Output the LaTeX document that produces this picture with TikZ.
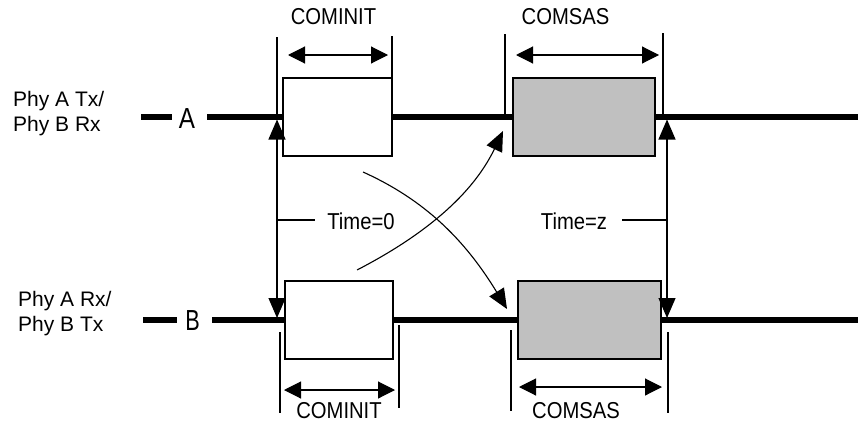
\documentclass[tikz,border=0pt]{standalone}
\usepackage{fontspec}
\setmainfont{Liberation Sans}
\newfontfamily\narrowfont{Liberation Sans}[FakeStretch=0.88]
\usetikzlibrary{arrows.meta}
\definecolor{boxgray}{HTML}{C0C0C0}
\begin{document}
\begin{tikzpicture}[x=1pt,y=-1pt,
  sigline/.style={line width=5.3pt},
  thinline/.style={line width=1.1pt},
  box/.style={draw, line width=1.4pt, minimum height=78pt, inner sep=0pt},
  graybox/.style={box, fill=boxgray},
  dimarrow/.style={line width=1.1pt, {Triangle[length=17pt,width=17pt]}-{Triangle[length=17pt,width=17pt]}},
  tiparrow/.style={line width=1.1pt, -{Triangle[length=20pt,width=17pt]}},
  lbl/.style={font=\narrowfont\fontsize{23}{25}\selectfont, inner sep=0pt},
  sidelbl/.style={font=\fontsize{21}{25}\selectfont, inner sep=0pt, align=left},
  letter/.style={font=\narrowfont\fontsize{29}{29}\selectfont, inner sep=0pt}]
\useasboundingbox (0,0) rectangle (858,423);

% boxes
\node[box, minimum width=109pt] (a1) at (337.5,117) {};
\node[graybox, minimum width=142pt] (a2) at (584,117) {};
\node[box, minimum width=108pt] (b1) at (339,320) {};
\node[graybox, minimum width=143pt] (b2) at (589.5,320) {};

% letters
\node[letter] (labA) at (187,118.5) {\scalebox{0.95}[1]{A}};
\node[letter] (labB) at (192.5,321) {\scalebox{0.85}[1]{B}};

% signal lines
\coordinate (Al) at (141,117);
\coordinate (Am1) at (172,117);
\coordinate (Am2) at (207,117);
\coordinate (Ar) at (858,117);
\coordinate (Bl) at (143,320);
\coordinate (Bm1) at (177,320);
\coordinate (Bm2) at (212,320);
\coordinate (Br) at (858,320);
\draw[sigline] (Al) -- (Am1);
\draw[sigline] (Am2) -- (a1);
\draw[sigline] (a1) -- (a2);
\draw[sigline] (a2) -- (Ar);
\draw[sigline] (Bl) -- (Bm1);
\draw[sigline] (Bm2) -- (b1);
\draw[sigline] (b1) -- (b2);
\draw[sigline] (b2) -- (Br);

% side labels
\node[sidelbl, anchor=west] (phyA) at (13,113.5) {Phy A Tx/\\Phy B Rx};
\node[sidelbl, anchor=west] (phyB) at (18,313.5) {Phy A Rx/\\Phy B Tx};

% top COMINIT
\coordinate (e1t) at (277,37);
\coordinate (e1b) at (277,117);
\coordinate (e2t) at (392,36);
\coordinate (e2b) at (392,115);
\draw[thinline] (e1t) -- (e1b);
\draw[thinline] (e2t) -- (e2b);
\coordinate (d1l) at (288,55);
\coordinate (d1r) at (388,55);
\draw[dimarrow] (d1l) -- (d1r);
\node[lbl] (ciA) at (333.5,17) {COMINIT};

% top COMSAS
\coordinate (e3t) at (505,34);
\coordinate (e3b) at (505,115);
\coordinate (e4t) at (663,33);
\coordinate (e4b) at (663,115);
\draw[thinline] (e3t) -- (e3b);
\draw[thinline] (e4t) -- (e4b);
\coordinate (d2l) at (516,55);
\coordinate (d2r) at (659,55);
\draw[dimarrow] (d2l) -- (d2r);
\node[lbl] (csA) at (565.5,17) {COMSAS};

% bottom COMINIT
\coordinate (e5t) at (280,332);
\coordinate (e5b) at (280,413);
\coordinate (e6t) at (399,325);
\coordinate (e6b) at (399,408);
\draw[thinline] (e5t) -- (e5b);
\draw[thinline] (e6t) -- (e6b);
\coordinate (d3l) at (284,390);
\coordinate (d3r) at (395,390);
\draw[dimarrow] (d3l) -- (d3r);
\node[lbl] (ciB) at (339,410.5) {COMINIT};

% bottom COMSAS
\coordinate (e7t) at (511,330);
\coordinate (e7b) at (511,411);
\coordinate (e8t) at (668,332);
\coordinate (e8b) at (668,413);
\draw[thinline] (e7t) -- (e7b);
\draw[thinline] (e8t) -- (e8b);
\coordinate (d4l) at (519,387);
\coordinate (d4r) at (662,387);
\draw[dimarrow] (d4l) -- (d4r);
\node[lbl] (csB) at (576,410.5) {COMSAS};

% time markers
\coordinate (t0) at (277,220);
\coordinate (t0A) at (277,119.5);
\coordinate (t0B) at (277,318);
\draw[tiparrow] (t0) -- (t0A);
\draw[tiparrow] (t0) -- (t0B);
\node[lbl] (time0) at (361,221) {Time=0};
\draw[thinline] (t0) -- ([xshift=-12pt]t0 -| time0.west);

\coordinate (tz) at (667,220);
\coordinate (tzA) at (667,119.5);
\coordinate (tzB) at (667,318);
\draw[tiparrow] (tz) -- (tzA);
\draw[tiparrow] (tz) -- (tzB);
\node[lbl] (timez) at (574,221.5) {Time=z};
\draw[thinline] ([xshift=15pt]tz -| timez.east) -- (tz);

% crossing curves
\coordinate (c1s) at (363,172);
\coordinate (c1e) at (507,309);
\draw[tiparrow] (c1s) .. controls (425,200) and (465,240) .. (c1e);
\coordinate (c2s) at (357,270);
\coordinate (c2e) at (503,131);
\draw[tiparrow] (c2s) .. controls (415,240) and (470,200) .. (c2e);
\end{tikzpicture}
\end{document}
